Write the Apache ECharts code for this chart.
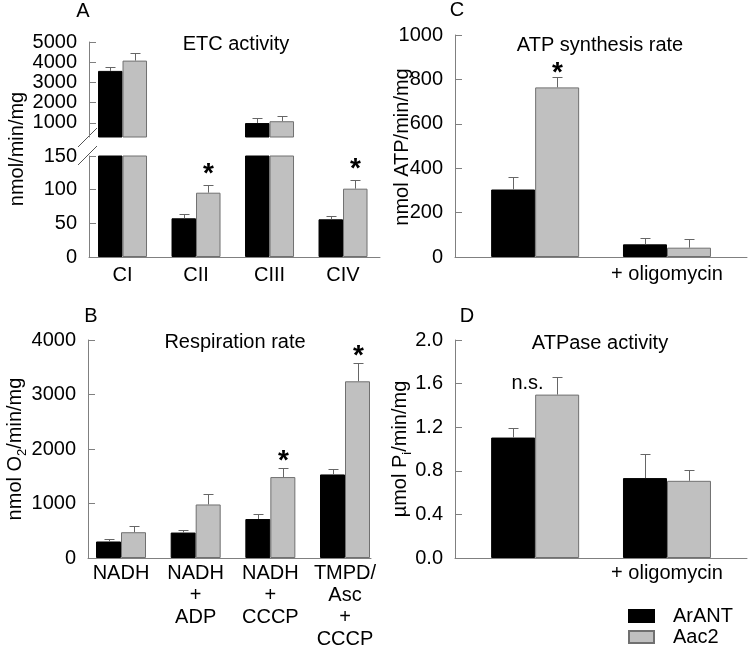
<!DOCTYPE html>
<html>
<head>
<meta charset="utf-8">
<script src="https://cdn.jsdelivr.net/npm/echarts@6/dist/echarts.min.js"></script>
<style>
html, body { margin: 0; padding: 0; background: #fff; }
#chart { width: 750px; height: 651px; }
</style>
</head>
<body>
<div id="chart"></div>
<script>
// A: ETC activity (nmol/min/mg)
var etcCats = ['CI', 'CII', 'CIII', 'CIV'];
var etcArant = [3570, 57.5, 990, 56];
var etcArantSd = [210, 6, 240, 5];
var etcAac2 = [4080, 95.5, 1080, 101.5];
var etcAac2Sd = [360, 11, 265, 13.5];
var etcMarks = ['', '*', '', '*'];
var etcUpperTicks = [1000, 2000, 3000, 4000, 5000];

// B: respiration rate (nmol O2/min/mg)
var respCats = ['NADH', 'NADH\n+\nADP', 'NADH\n+\nCCCP', 'TMPD/\nAsc\n+\nCCCP'];
var respArant = [303, 467, 715, 1533];
var respArantSd = [42, 42, 91, 103];
var respAac2 = [473, 982, 1485, 3242];
var respAac2Sd = [121, 200, 170, 340];
var respMarks = ['', '', '*', '*'];

// C: ATP synthesis rate (nmol ATP/min/mg)
var atpCats = ['', '+ oligomycin'];
var atpArant = [304, 57];
var atpArantSd = [57, 30];
var atpAac2 = [764, 42];
var atpAac2Sd = [45, 38];
var atpMarks = ['*', ''];

// D: ATPase activity (umol Pi/min/mg)
var atpaseCats = ['', '+ oligomycin'];
var atpaseArant = [1.105, 0.733];
var atpaseArantSd = [0.092, 0.223];
var atpaseAac2 = [1.499, 0.708];
var atpaseAac2Sd = [0.162, 0.095];
var atpaseMarks = ['n.s.', ''];

var FONT = '"Liberation Sans", Arial, sans-serif';
var AXIS = '#808080';
var GREY = '#c0c0c0';

function pairs(vals) {
    return vals.map(function (v, i) { return [i, v]; });
}
function triples(vals, sds) {
    return vals.map(function (v, i) { return [i, v, sds[i]]; });
}

function barSeries(name, grid, vals, width) {
    var black = name === 'ArANT';
    return {
        name: name,
        type: 'bar',
        xAxisIndex: grid,
        yAxisIndex: grid,
        data: pairs(vals),
        barWidth: width,
        barGap: '0%',
        clip: true,
        itemStyle: {
            color: black ? '#000' : GREY,
            borderColor: black ? '#000' : '#707070',
            borderWidth: 1
        }
    };
}

// whisker (upper half only) + optional significance mark
function errorSeries(grid, vals, sds, offset, marks, gap) {
    return {
        type: 'custom',
        xAxisIndex: grid,
        yAxisIndex: grid,
        z: 5,
        data: triples(vals, sds),
        renderItem: function (params, api) {
            var x = api.value(0), v = api.value(1), sd = api.value(2);
            var cs = params.coordSys;
            var base = api.coord([x, v]);
            // bar top must fall inside this grid (broken axis in panel A)
            if (base[1] < cs.y - 1 || base[1] > cs.y + cs.height + 1) return null;
            var top = api.coord([x, v + sd]);
            var cx = Math.round(base[0] + offset) + 0.5;
            var ty = Math.round(top[1]) + 0.5;
            var kids = [
                { type: 'line', shape: { x1: cx, y1: base[1], x2: cx, y2: ty }, style: { stroke: '#666', lineWidth: 1 } },
                { type: 'line', shape: { x1: cx - 5, y1: ty, x2: cx + 5, y2: ty }, style: { stroke: '#666', lineWidth: 1 } }
            ];
            var m = marks ? marks[params.dataIndex] : '';
            if (m === '*') {
                kids.push({ type: 'text', x: cx, y: ty - gap, style: { text: '*', fontSize: 28, fontWeight: 'bold', fontFamily: FONT, fill: '#000', align: 'center', verticalAlign: 'middle' } });
            } else if (m) {
                kids.push({ type: 'text', x: cx - 30, y: ty + 6, style: { text: m, fontSize: 20, fontFamily: FONT, fill: '#000', align: 'center', verticalAlign: 'middle' } });
            }
            return { type: 'group', children: kids };
        }
    };
}

function xAxisCfg(grid, min, max, cats, showLabels, margin, lh) {
    return {
        type: 'value',
        gridIndex: grid,
        min: min,
        max: max,
        show: true,
        axisLine: { show: showLabels, onZero: false, lineStyle: { color: AXIS, width: 1 } },
        axisTick: { show: false },
        splitLine: { show: false },
        axisLabel: {
            show: showLabels,
            customValues: cats.map(function (c, i) { return i; }),
            formatter: function (v) { return cats[Math.round(v)]; },
            color: '#000',
            fontSize: 20,
            fontFamily: FONT,
            lineHeight: lh,
            margin: margin
        }
    };
}

function yAxisCfg(grid, min, max, interval, fmt, custom) {
    var ax = {
        type: 'value',
        gridIndex: grid,
        min: min,
        max: max,
        interval: interval,
        axisLine: { show: true, onZero: false, lineStyle: { color: AXIS, width: 1 } },
        axisTick: { show: true, inside: true, length: 7, lineStyle: { color: AXIS } },
        splitLine: { show: false },
        axisLabel: {
            color: '#000',
            fontSize: 20,
            fontFamily: FONT,
            margin: 12,
            formatter: fmt || function (v) { return String(v); }
        }
    };
    if (custom) {
        ax.axisLabel.customValues = custom;
        ax.axisTick.customValues = custom;
        delete ax.interval;
    }
    return ax;
}

var chart = echarts.init(document.getElementById('chart'), null, { renderer: 'canvas' });

function txt(x, y, s, size, rot, rich) {
    var st = { text: s, fontSize: size, fontFamily: FONT, fill: '#000', align: 'center', verticalAlign: 'middle' };
    if (rich) st.rich = rich;
    return { type: 'text', x: x, y: y, rotation: rot || 0, style: st, z: 10 };
}

var subRich = {
    n: { fontSize: 20, fontFamily: FONT, lineHeight: 28, verticalAlign: 'middle' },
    s: { fontSize: 13, fontFamily: FONT, lineHeight: 13, verticalAlign: 'bottom' }
};

var option = {
    animation: false,
    backgroundColor: '#fff',
    textStyle: { fontFamily: FONT },
    grid: [
        { left: 89, top: 42, width: 291, height: 95 },    // A upper
        { left: 89, top: 156, width: 291, height: 101 },  // A lower
        { left: 88, top: 340, width: 283, height: 218 },  // B
        { left: 455, top: 35, width: 292, height: 222 },  // C
        { left: 455, top: 340, width: 292, height: 218 }  // D
    ],
    xAxis: [
        xAxisCfg(0, -0.456, 3.503, etcCats, false, 7, 22),
        xAxisCfg(1, -0.456, 3.503, etcCats, true, 7, 22),
        xAxisCfg(2, -0.442, 3.348, respCats, true, 4, 22),
        xAxisCfg(3, -0.608, 1.607, atpCats, true, 6, 22),
        xAxisCfg(4, -0.608, 1.607, atpaseCats, true, 4, 22)
    ],
    yAxis: [
        yAxisCfg(0, 300, 5000, null, null, etcUpperTicks),
        yAxisCfg(1, 0, 150, 50),
        yAxisCfg(2, 0, 4000, 1000),
        yAxisCfg(3, 0, 1000, 200),
        yAxisCfg(4, 0, 2, 0.4, function (v) { return v.toFixed(1); })
    ],
    legend: {
        orient: 'vertical',
        left: 628,
        top: 606,
        padding: 0,
        itemWidth: 25,
        itemHeight: 12,
        itemGap: 1,
        icon: 'rect',
        data: ['ArANT', 'Aac2'],
        textStyle: { fontSize: 20, fontFamily: FONT, color: '#000', padding: [0, 0, 0, 14] }
    },
    series: [
        barSeries('ArANT', 0, etcArant, 24.5),
        barSeries('Aac2', 0, etcAac2, 24.5),
        errorSeries(0, etcArant, etcArantSd, -12.25, null, 0),
        errorSeries(0, etcAac2, etcAac2Sd, 12.25, null, 0),
        barSeries('ArANT', 1, etcArant, 24.5),
        barSeries('Aac2', 1, etcAac2, 24.5),
        errorSeries(1, etcArant, etcArantSd, -12.25, null, 0),
        errorSeries(1, etcAac2, etcAac2Sd, 12.25, etcMarks, 11),

        barSeries('ArANT', 2, respArant, 25),
        barSeries('Aac2', 2, respAac2, 25),
        errorSeries(2, respArant, respArantSd, -12.5, null, 0),
        errorSeries(2, respAac2, respAac2Sd, 12.5, respMarks, 7),

        barSeries('ArANT', 3, atpArant, 44),
        barSeries('Aac2', 3, atpAac2, 44),
        errorSeries(3, atpArant, atpArantSd, -22, null, 0),
        errorSeries(3, atpAac2, atpAac2Sd, 22, atpMarks, 4),

        barSeries('ArANT', 4, atpaseArant, 44),
        barSeries('Aac2', 4, atpaseAac2, 44),
        errorSeries(4, atpaseArant, atpaseArantSd, -22, null, 0),
        errorSeries(4, atpaseAac2, atpaseAac2Sd, 22, atpaseMarks, 0)
    ],
    graphic: [
        txt(83, 11, 'A', 20),
        txt(457, 10, 'C', 20),
        txt(91, 316, 'B', 20),
        txt(467, 316, 'D', 20),
        txt(236, 44, 'ETC activity', 20),
        txt(600, 45, 'ATP synthesis rate', 20),
        txt(235, 342, 'Respiration rate', 20),
        txt(600, 343, 'ATPase activity', 20),
        txt(17, 149, 'nmol/min/mg', 20, Math.PI / 2),
        txt(15, 449, '{n|nmol O}{s|2}{n|/min/mg}', 20, Math.PI / 2, subRich),
        txt(402, 147, 'nmol ATP/min/mg', 20, Math.PI / 2),
        txt(400, 449, '{n|\u00b5mol P}{s|i}{n|/min/mg}', 20, Math.PI / 2, subRich),
        { type: 'line', shape: { x1: 78, y1: 147, x2: 97, y2: 128 }, style: { stroke: '#555', lineWidth: 1 } },
        { type: 'line', shape: { x1: 78, y1: 165, x2: 97, y2: 146 }, style: { stroke: '#555', lineWidth: 1 } }
    ]
};

chart.setOption(option);
window.onresize = function () { chart && chart.resize(); };
</script>
</body>
</html>
